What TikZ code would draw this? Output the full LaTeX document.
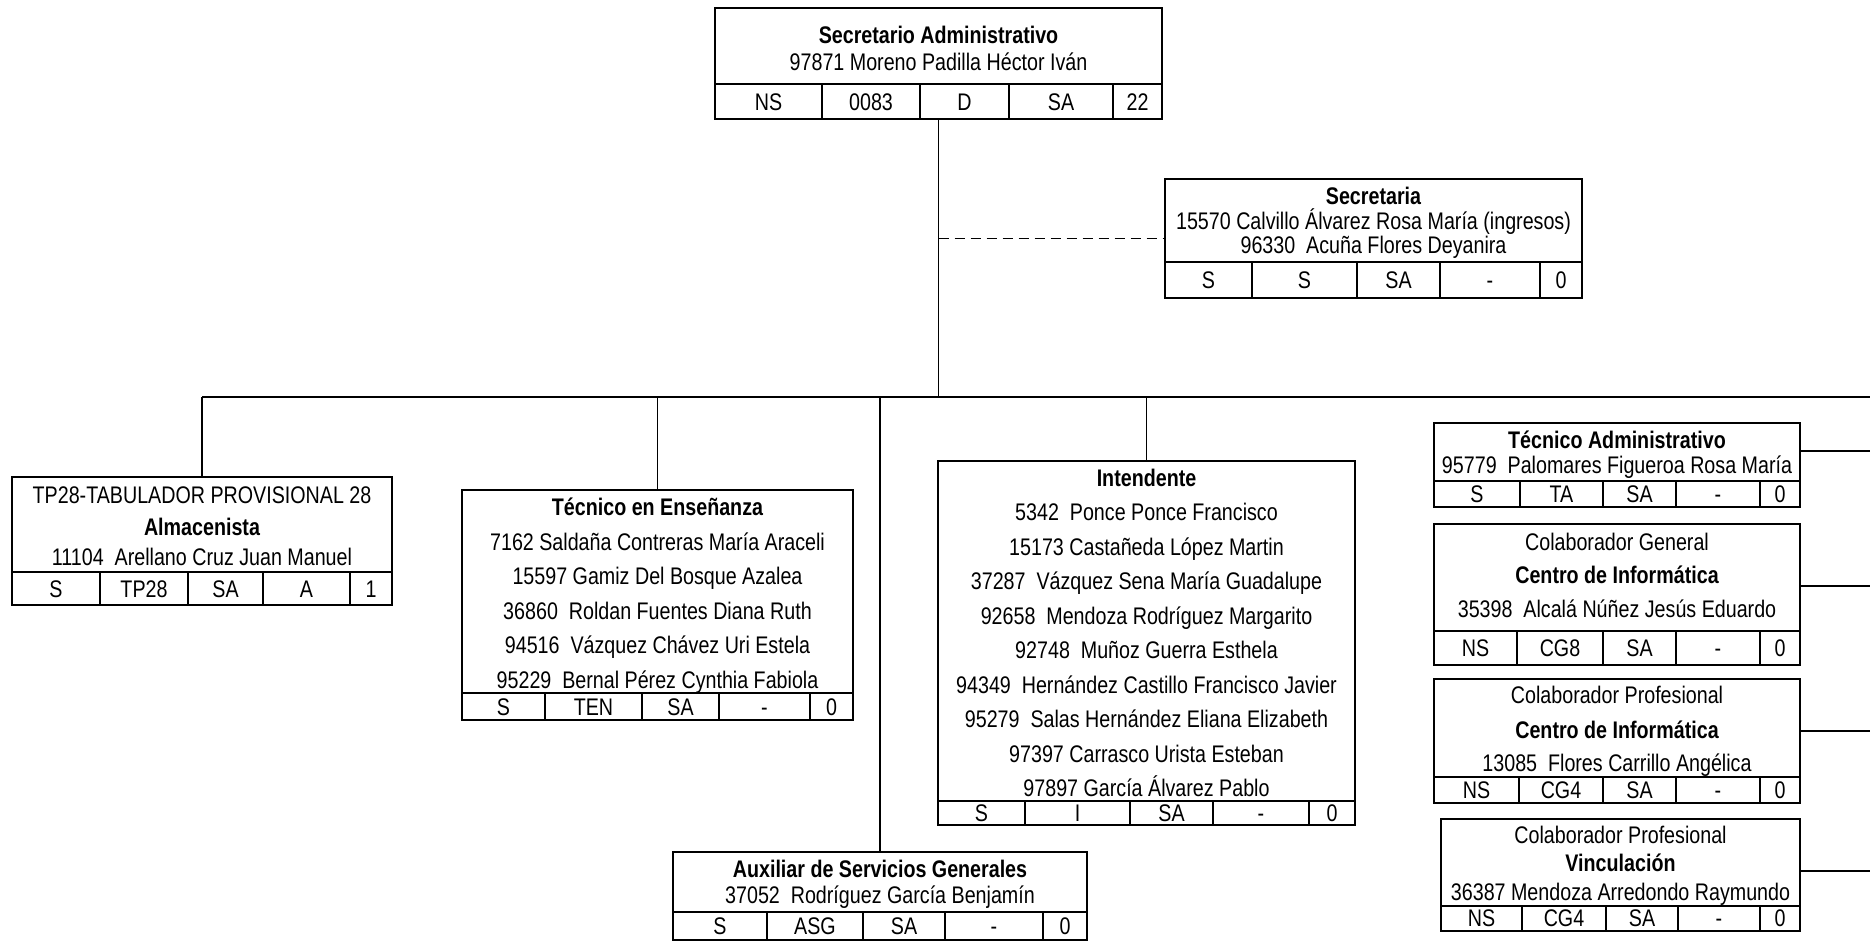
\documentclass[tikz,border=0pt]{standalone}
\usepackage{fontspec}
\setmainfont{Liberation Sans}[FakeStretch=0.82]
\usetikzlibrary{positioning}

\tikzset{
    caja/.style={draw, line width=2pt, inner sep=0pt},
    rejilla/.style={line width=1.6pt},
    enlace/.style={line width=1.1pt},
    txt/.style={font=\fontsize{24}{28}\selectfont, inner sep=0pt, text height=17pt, text depth=0pt},
    tit/.style={txt, font=\fontsize{24}{28}\selectfont\bfseries},
}

% box: name, x0, y0, x1, y1 (y grows downwards)
\newcommand{\caja}[5]{%
    \pgfmathsetmacro{\cx}{(#2+#4)/2}%
    \node[caja, minimum width={(#4-#2)*1pt}, minimum height={(#5-#3)*1pt}] (#1) at ({(#2+#4)/2},{(#3+#5)/2}) {};}

% table row: name, x0, x1, ysep, ybot, ytext, cells a/b/text
\newcommand{\tabla}[7]{%
    \draw[rejilla] (#2,#4) -- (#3,#4);
    \foreach \a/\b/\t [count=\i] in {#7} {
        \ifnum\i>1 \draw[rejilla] (\a,#4) -- (\a,#5); \fi
        \node[txt] (#1-c\i) at ({(\a+\b)/2},#6) {\t};
    }}

\begin{document}
\begin{tikzpicture}[x=1pt, y=-1pt]
    \useasboundingbox (0,0) rectangle (1870,942);

    % Secretario Administrativo
    \caja{sa}{715}{8}{1162}{119}
    \node[tit] (sa-1) at (\cx,35) {Secretario Administrativo};
    \node[txt] (sa-2) at (\cx,62) {97871 Moreno Padilla Héctor Iván};
    \tabla{sa}{715}{1162}{84}{119}{102}{715/822/NS, 822/920/0083, 920/1009/D, 1009/1113/SA, 1113/1162/22}

    % Secretaria
    \caja{sec}{1165}{179}{1582}{298}
    \node[tit] (sec-1) at (\cx,196) {Secretaria};
    \node[txt] (sec-2) at (\cx,221) {15570 Calvillo Álvarez Rosa María (ingresos)};
    \node[txt] (sec-3) at (\cx,245) {96330~ Acuña Flores Deyanira};
    \tabla{sec}{1165}{1582}{262}{298}{280}{1165/1252/S, 1252/1357/S, 1357/1440/SA, 1440/1540/-, 1540/1582/0}

    % Almacenista
    \caja{alm}{12}{477}{392}{605}
    \node[txt] (alm-1) at (\cx,495) {TP28-TABULADOR PROVISIONAL 28};
    \node[tit] (alm-2) at (\cx,527) {Almacenista};
    \node[txt] (alm-3) at (\cx,557) {11104~ Arellano Cruz Juan Manuel};
    \tabla{alm}{12}{392}{572}{605}{589}{12/100/S, 100/188/TP28, 188/263/SA, 263/350/A, 350/392/1}

    % Tecnico en Ensenanza
    \caja{ten}{462}{490}{853}{720}
    \node[tit] (ten-1) at (\cx,507) {Técnico en Enseñanza};
    \node[txt] (ten-2) at (\cx,542) {7162 Saldaña Contreras María Araceli};
    \node[txt] (ten-3) at (\cx,576) {15597 Gamiz Del Bosque Azalea};
    \node[txt] (ten-4) at (\cx,611) {36860~ Roldan Fuentes Diana Ruth};
    \node[txt] (ten-5) at (\cx,645) {94516~ Vázquez Chávez Uri Estela};
    \node[txt] (ten-6) at (\cx,680) {95229~ Bernal Pérez Cynthia Fabiola};
    \tabla{ten}{462}{853}{693}{720}{707}{462/545/S, 545/642/TEN, 642/719/SA, 719/810/-, 810/853/0}

    % Intendente
    \caja{int}{938}{461}{1355}{825}
    \node[tit] (int-0) at (\cx,478) {Intendente};
    \foreach \n [count=\k from 0] in {5342~ Ponce Ponce Francisco, 15173 Castañeda López Martin,
        37287~ Vázquez Sena María Guadalupe, 92658~ Mendoza Rodríguez Margarito,
        92748~ Muñoz Guerra Esthela, 94349~ Hernández Castillo Francisco Javier,
        95279~ Salas Hernández Eliana Elizabeth, 97397 Carrasco Urista Esteban,
        97897 García Álvarez Pablo}
        \node[txt] (int-\k) at (\cx,{512+34.5*\k}) {\n};
    \tabla{int}{938}{1355}{801}{825}{813}{938/1025/S, 1025/1130/I, 1130/1213/SA, 1213/1309/-, 1309/1355/0}

    % Auxiliar de Servicios Generales
    \caja{asg}{673}{852}{1087}{940}
    \node[tit] (asg-1) at (\cx,869) {Auxiliar de Servicios Generales};
    \node[txt] (asg-2) at (\cx,895) {37052~ Rodríguez García Benjamín};
    \tabla{asg}{673}{1087}{912}{940}{926}{673/767/S, 767/863/ASG, 863/945/SA, 945/1043/-, 1043/1087/0}

    % Tecnico Administrativo
    \caja{ta}{1434}{423}{1800}{507}
    \node[tit] (ta-1) at (\cx,440) {Técnico Administrativo};
    \node[txt] (ta-2) at (\cx,465) {95779~ Palomares Figueroa Rosa María};
    \tabla{ta}{1434}{1800}{481}{507}{494}{1434/1520/S, 1520/1603/TA, 1603/1676/SA, 1676/1760/-, 1760/1800/0}

    % Colaborador General
    \caja{cg}{1434}{524}{1800}{665}
    \node[txt] (cg-1) at (\cx,542) {Colaborador General};
    \node[tit] (cg-2) at (\cx,575) {Centro de Informática};
    \node[txt] (cg-3) at (\cx,609) {35398~ Alcalá Núñez Jesús Eduardo};
    \tabla{cg}{1434}{1800}{631}{665}{648}{1434/1517/NS, 1517/1603/CG8, 1603/1676/SA, 1676/1760/-, 1760/1800/0}

    % Colaborador Profesional (Centro de Informatica)
    \caja{cpa}{1434}{679}{1800}{803}
    \node[txt] (cpa-1) at (\cx,695) {Colaborador Profesional};
    \node[tit] (cpa-2) at (\cx,730) {Centro de Informática};
    \node[txt] (cpa-3) at (\cx,763) {13085~ Flores Carrillo Angélica};
    \tabla{cpa}{1434}{1800}{777}{803}{790}{1434/1519/NS, 1519/1603/CG4, 1603/1676/SA, 1676/1760/-, 1760/1800/0}

    % Colaborador Profesional (Vinculacion)
    \caja{cpb}{1441}{819}{1800}{931}
    \node[txt] (cpb-1) at (\cx,835) {Colaborador Profesional};
    \node[tit] (cpb-2) at (\cx,863) {Vinculación};
    \node[txt] (cpb-3) at (\cx,892) {36387 Mendoza Arredondo Raymundo};
    \tabla{cpb}{1441}{1800}{906}{931}{918}{1441/1522/NS, 1522/1606/CG4, 1606/1678/SA, 1678/1760/-, 1760/1800/0}

    % Connectors
    \coordinate (bus-l) at (202,397);
    \coordinate (bus-r) at (1870,397);
    \draw[enlace] (bus-l) -- (bus-r);
    \draw[enlace] (sa.south) -- (sa.south |- bus-l);
    \draw[enlace, dash pattern=on 10pt off 6pt] (sec.west -| sa.south) -- (sec.west);
    \foreach \b in {alm, ten, asg, int}
        \draw[enlace] (\b.north) -- (\b.north |- bus-l);
    \foreach \b/\y in {ta/451, cg/586, cpa/731, cpb/871} {
        \coordinate (\b-r) at (1870,\y);
        \draw[enlace] (\b-r -| \b.east) -- (\b-r);
    }
\end{tikzpicture}
\end{document}
